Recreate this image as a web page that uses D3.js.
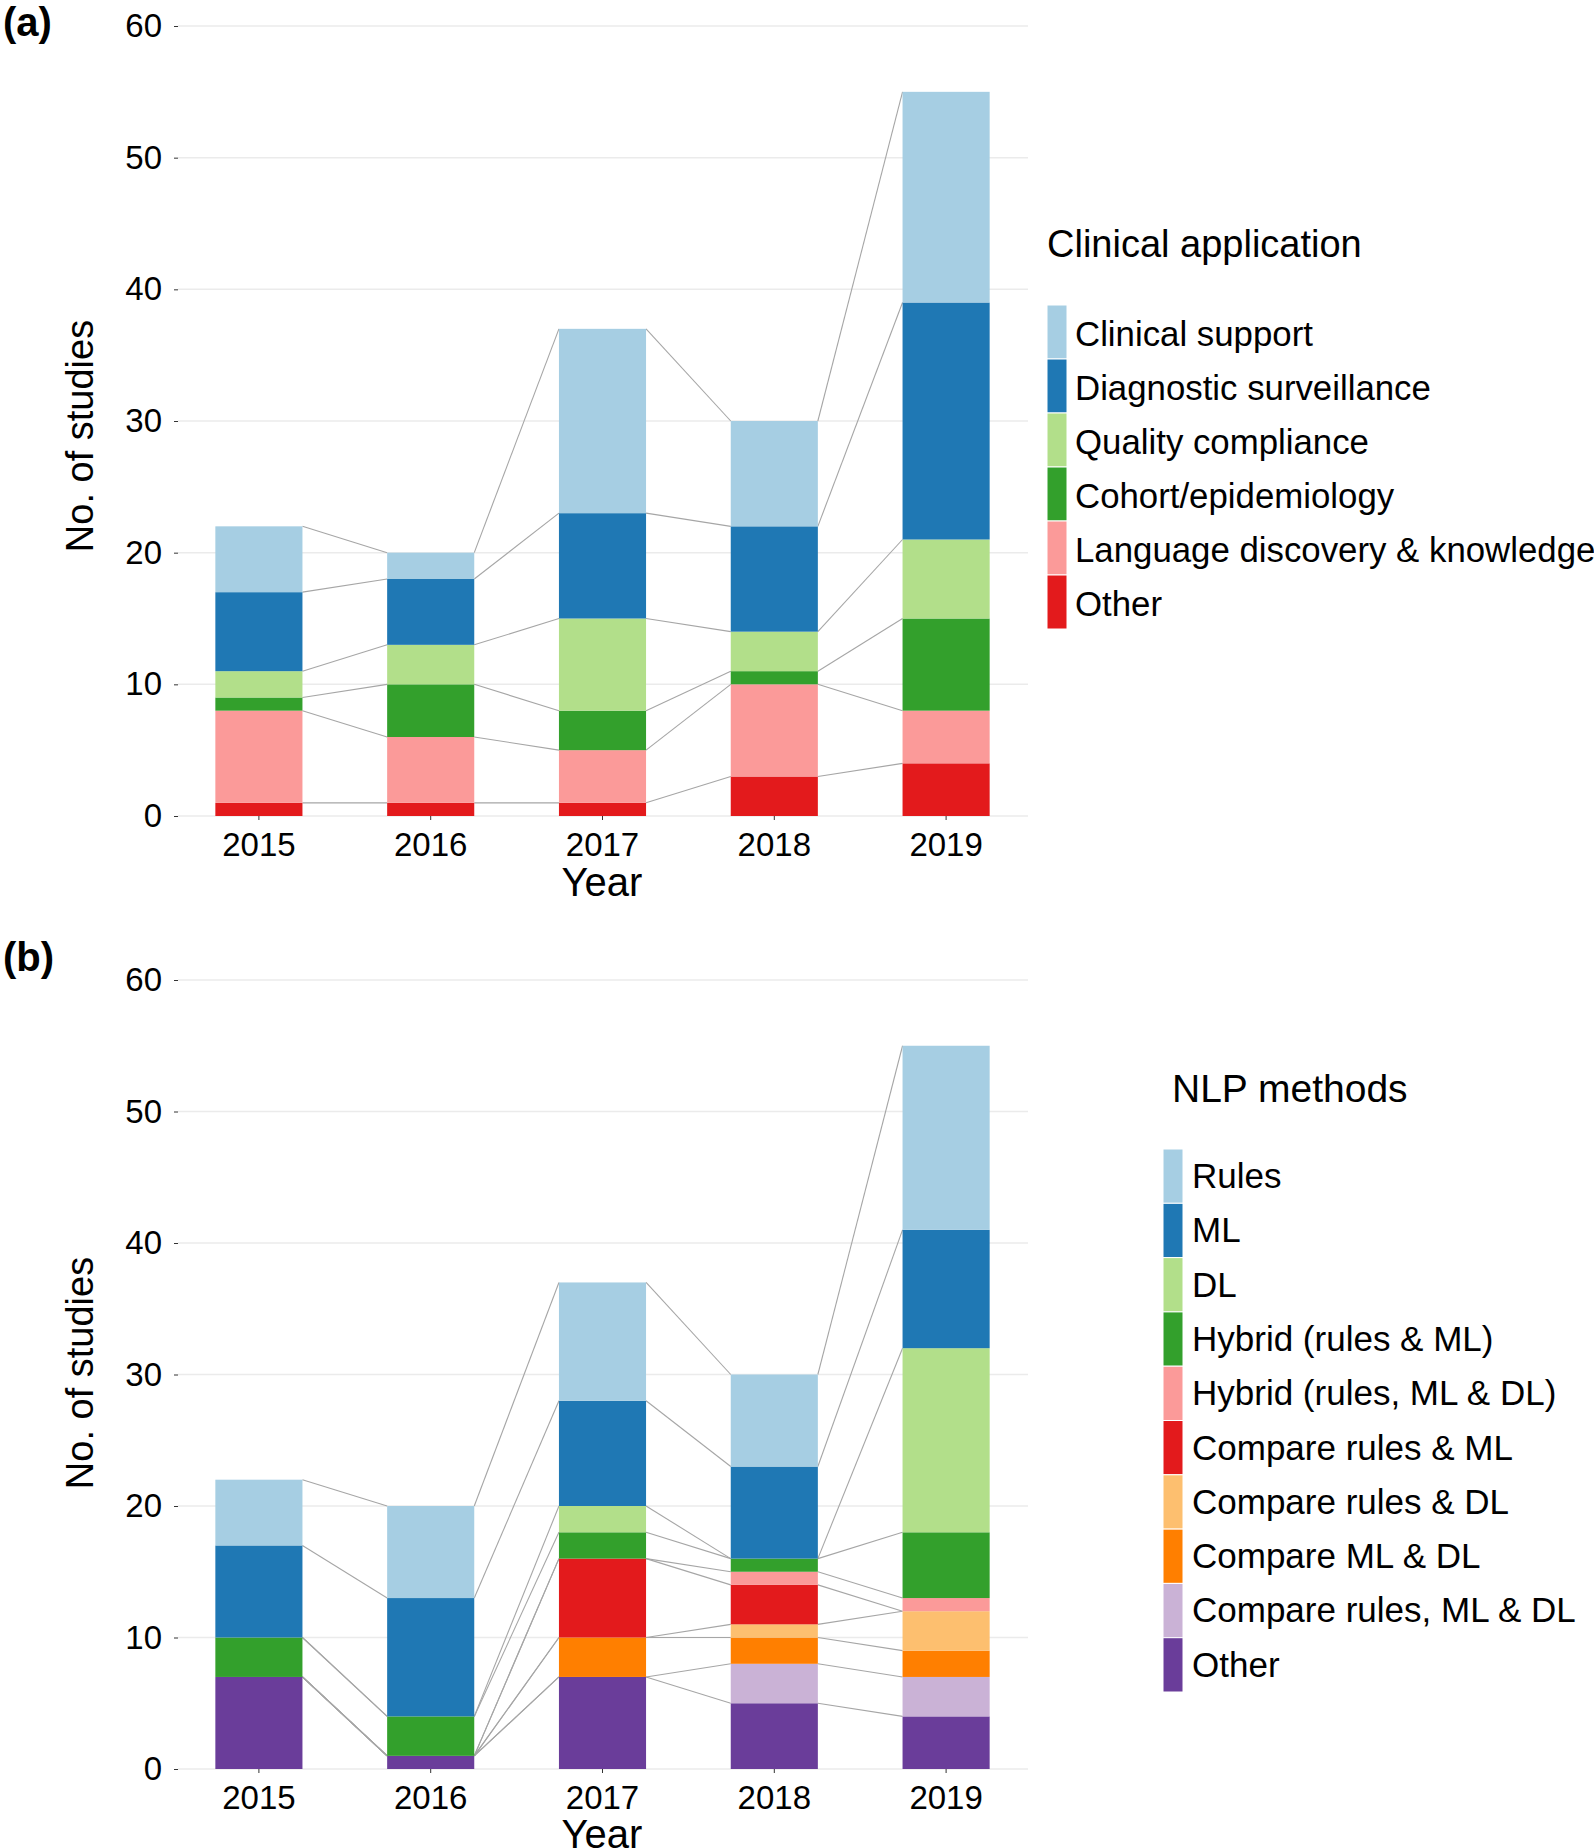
<!DOCTYPE html>
<html>
<head>
<meta charset="utf-8">
<script src="https://cdn.jsdelivr.net/npm/d3@7"></script>
<style>
  html, body { margin: 0; padding: 0; background: #fff; }
  svg { display: block; font-family: "Liberation Sans", Arial, sans-serif; }
</style>
</head>
<body>
<svg id="chart" width="1594" height="1848"></svg>
<script>
// ---------- data ----------
const years = ["2015", "2016", "2017", "2018", "2019"];
const yTicks = [0, 10, 20, 30, 40, 50, 60];

// Panel (a): Clinical application (legend order, top of stack first)
const appCategories = ["Clinical support", "Diagnostic surveillance", "Quality compliance",
  "Cohort/epidemiology", "Language discovery & knowledge", "Other"];
const appColors = ["#A6CEE3", "#1F78B4", "#B2DF8A", "#33A02C", "#FB9A99", "#E31A1C"];
const appClinicalSupport = [5, 2, 14, 8, 16];
const appDiagnosticSurveillance = [6, 5, 8, 8, 18];
const appQualityCompliance = [2, 3, 7, 3, 6];
const appCohortEpidemiology = [1, 4, 3, 1, 7];
const appLanguageDiscovery = [7, 5, 4, 7, 4];
const appOther = [1, 1, 1, 3, 4];
const appValues = [appClinicalSupport, appDiagnosticSurveillance, appQualityCompliance,
  appCohortEpidemiology, appLanguageDiscovery, appOther];

// Panel (b): NLP methods (legend order, top of stack first)
const nlpCategories = ["Rules", "ML", "DL", "Hybrid (rules & ML)", "Hybrid (rules, ML & DL)",
  "Compare rules & ML", "Compare rules & DL", "Compare ML & DL", "Compare rules, ML & DL", "Other"];
const nlpColors = ["#A6CEE3", "#1F78B4", "#B2DF8A", "#33A02C", "#FB9A99",
  "#E31A1C", "#FDBF6F", "#FF7F00", "#CAB2D6", "#6A3D9A"];
const nlpRules = [5, 7, 9, 7, 14];
const nlpML = [7, 9, 8, 7, 9];
const nlpDL = [0, 0, 2, 0, 14];
const nlpHybridRulesML = [3, 3, 2, 1, 5];
const nlpHybridRulesMLDL = [0, 0, 0, 1, 1];
const nlpCompareRulesML = [0, 0, 6, 3, 0];
const nlpCompareRulesDL = [0, 0, 0, 1, 3];
const nlpCompareMLDL = [0, 0, 3, 2, 2];
const nlpCompareRulesMLDL = [0, 0, 0, 3, 3];
const nlpOther = [7, 1, 7, 5, 4];
const nlpValues = [nlpRules, nlpML, nlpDL, nlpHybridRulesML, nlpHybridRulesMLDL,
  nlpCompareRulesML, nlpCompareRulesDL, nlpCompareMLDL, nlpCompareRulesMLDL, nlpOther];

// ---------- drawing ----------
const svg = d3.select("#chart");
svg.append("rect").attr("width", 1594).attr("height", 1848).attr("fill", "#fff");

function drawPanel(opt) {
  const g = svg.append("g");
  const x = d3.scaleBand().domain(years).range([173, 1032])
    .paddingInner(0.493).paddingOuter(0.2465);
  const y = d3.scaleLinear().domain([0, 60]).range([opt.y0, opt.y60]);

  const keys = opt.categories.slice().reverse(); // bottom first
  const rows = years.map((yr, i) => {
    const r = { year: yr };
    opt.categories.forEach((c, k) => { r[c] = opt.values[k][i]; });
    return r;
  });
  const series = d3.stack().keys(keys)(rows);
  const color = d3.scaleOrdinal().domain(opt.categories).range(opt.colors);

  // gridlines
  g.append("g").selectAll("line").data(yTicks).join("line")
    .attr("x1", 178).attr("x2", 1028)
    .attr("y1", d => y(d)).attr("y2", d => y(d))
    .attr("stroke", "#ebebeb").attr("stroke-width", 1.5);

  // connector lines between cumulative tops
  const conn = [];
  series.forEach(s => {
    for (let i = 0; i < years.length - 1; i++) {
      conn.push({ x1: x(years[i]) + x.bandwidth(), y1: y(s[i][1]),
                  x2: x(years[i + 1]), y2: y(s[i + 1][1]) });
    }
  });
  g.append("g").selectAll("line").data(conn).join("line")
    .attr("x1", d => d.x1).attr("y1", d => d.y1)
    .attr("x2", d => d.x2).attr("y2", d => d.y2)
    .attr("stroke", "#a6a6a6").attr("stroke-width", 1.1);

  // bars
  g.append("g").selectAll("g").data(series).join("g")
    .attr("fill", d => color(d.key))
    .selectAll("rect").data(d => d).join("rect")
    .attr("x", d => x(d.data.year))
    .attr("width", x.bandwidth())
    .attr("y", d => y(d[1]))
    .attr("height", d => y(d[0]) - y(d[1]));

  // y axis
  const ya = g.append("g").attr("transform", "translate(178,0)")
    .call(d3.axisLeft(y).tickValues(yTicks).tickSize(4).tickPadding(12));
  ya.select(".domain").remove();
  ya.selectAll(".tick line").attr("stroke", "#333");
  ya.selectAll(".tick text").attr("font-size", 33).attr("fill", "#000")
    .attr("font-family", "Liberation Sans, Arial, sans-serif");

  // x axis
  const xa = g.append("g").attr("transform", `translate(0,${opt.y0})`)
    .call(d3.axisBottom(x).tickSize(4).tickPadding(13));
  xa.select(".domain").remove();
  xa.selectAll(".tick line").attr("stroke", "#333");
  xa.selectAll(".tick text").attr("font-size", 33).attr("fill", "#000")
    .attr("font-family", "Liberation Sans, Arial, sans-serif");

  // axis titles
  g.append("text").attr("x", 602).attr("y", opt.xTitleY)
    .attr("text-anchor", "middle").attr("font-size", 40).attr("fill", "#000").text("Year");
  g.append("text")
    .attr("transform", `translate(93,${opt.yTitleY}) rotate(-90)`)
    .attr("text-anchor", "middle").attr("font-size", 38).attr("fill", "#000")
    .text("No. of studies");

  // panel tag
  g.append("text").attr("x", 3).attr("y", opt.tagY)
    .attr("font-size", 40).attr("font-weight", "bold").attr("fill", "#000").text(opt.tag);

  // legend
  const L = opt.legend;
  g.append("text").attr("x", L.titleX).attr("y", L.titleY)
    .attr("font-size", L.titleSize).attr("fill", "#000").text(opt.title);
  const li = g.append("g").selectAll("g").data(opt.categories).join("g")
    .attr("transform", (d, i) => `translate(${L.keyX},${L.keyTop + i * L.keyH})`);
  li.append("rect").attr("width", 20).attr("height", L.keyH)
    .attr("fill", d => color(d)).attr("stroke", "#fff").attr("stroke-width", 1);
  li.append("text").attr("x", L.textX - L.keyX).attr("y", L.baseOff)
    .attr("font-size", L.textSize).attr("fill", "#000").text(d => d);
}

drawPanel({
  tag: "(a)", tagY: 36,
  y0: 816, y60: 26, xTitleY: 896, yTitleY: 436,
  categories: appCategories, colors: appColors, values: appValues,
  title: "Clinical application",
  legend: { titleX: 1047, titleY: 257, titleSize: 38, keyX: 1047, keyTop: 305, keyH: 54,
            textX: 1075, baseOff: 41, textSize: 34.8 }
});

drawPanel({
  tag: "(b)", tagY: 971,
  y0: 1769, y60: 980, xTitleY: 1848, yTitleY: 1373,
  categories: nlpCategories, colors: nlpColors, values: nlpValues,
  title: "NLP methods",
  legend: { titleX: 1172, titleY: 1102, titleSize: 39, keyX: 1163, keyTop: 1149, keyH: 54.3,
            textX: 1192, baseOff: 39, textSize: 35 }
});
</script>
</body>
</html>
